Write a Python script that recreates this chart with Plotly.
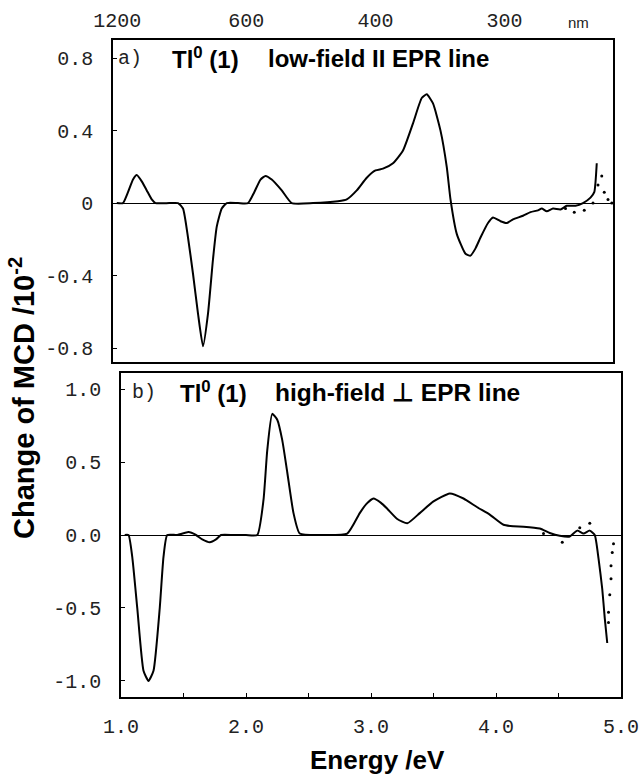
import plotly.graph_objects as go

W, H = 643, 779

# ---------------- data ----------------
# panel a: low-field || EPR line
energy_a = [1.03, 1.08, 1.12, 1.16, 1.19, 1.23, 1.27, 1.31, 1.34, 1.45, 1.52, 1.56, 1.60, 1.64,
            1.68, 1.72, 1.76, 1.80, 1.83, 1.87, 1.91, 2.00, 2.08, 2.13, 2.18, 2.22, 2.27, 2.35,
            2.43, 2.60, 2.80, 2.87, 2.95, 3.03, 3.10, 3.16, 3.24, 3.32, 3.40, 3.47, 3.51, 3.56,
            3.62, 3.67, 3.70, 3.75, 3.82, 3.86, 3.90, 3.94, 4.00, 4.04, 4.10, 4.15, 4.20, 4.28,
            4.34, 4.40, 4.43, 4.47, 4.52, 4.58, 4.63, 4.70, 4.76, 4.82, 4.85, 4.87]
mcd_a = [0.0, 0.0, 0.06, 0.13, 0.155, 0.12, 0.07, 0.02, 0.0, 0.0, 0.0, -0.03, -0.19, -0.39,
         -0.61, -0.79, -0.61, -0.31, -0.13, -0.03, 0.0, 0.0, 0.0, 0.06, 0.13, 0.15, 0.13, 0.07,
         0.0, 0.0, 0.01, 0.02, 0.07, 0.14, 0.18, 0.19, 0.22, 0.29, 0.44, 0.58, 0.60, 0.55,
         0.40, 0.20, 0.02, -0.17, -0.28, -0.29, -0.25, -0.19, -0.11, -0.08, -0.10, -0.11, -0.09, -0.07,
         -0.05, -0.04, -0.03, -0.045, -0.03, -0.035, -0.015, -0.015, 0.0, 0.03, 0.06, 0.22]
energy_a_dots = [4.62, 4.69, 4.77, 4.84, 4.88, 4.91, 4.93, 4.96, 4.99]
mcd_a_dots = [-0.03, -0.05, -0.04, 0.0, 0.10, 0.15, 0.06, 0.02, 0.0]

# panel b: high-field _|_ EPR line
energy_b = [1.03, 1.06, 1.09, 1.13, 1.18, 1.22, 1.26, 1.31, 1.34, 1.37, 1.45, 1.54, 1.60, 1.65,
            1.71, 1.76, 1.80, 1.90, 2.00, 2.09, 2.14, 2.17, 2.21, 2.25, 2.29, 2.33, 2.38, 2.43,
            2.60, 2.81, 2.91, 2.96, 3.02, 3.08, 3.13, 3.21, 3.29, 3.39, 3.50, 3.63, 3.74, 3.85,
            3.95, 4.06, 4.14, 4.22, 4.35, 4.43, 4.51, 4.59, 4.65, 4.70, 4.75, 4.79, 4.82, 4.85,
            4.87, 4.89]
mcd_b = [0.0, 0.0, -0.15, -0.50, -0.93, -1.0, -0.93, -0.50, -0.15, 0.0, 0.0, 0.02, 0.0, -0.03,
         -0.05, -0.03, 0.0, 0.0, 0.0, 0.0, 0.24, 0.58, 0.83, 0.79, 0.65, 0.43, 0.15, 0.01,
         0.0, 0.01, 0.15, 0.21, 0.25, 0.22, 0.18, 0.11, 0.08, 0.15, 0.23, 0.285, 0.25, 0.19,
         0.14, 0.07, 0.06, 0.057, 0.044, 0.014, -0.005, -0.01, 0.03, 0.01, 0.03, 0.0, -0.16, -0.37,
         -0.57, -0.74]
energy_b_dots = [4.38, 4.53, 4.67, 4.75, 4.94, 4.93, 4.92, 4.92, 4.91, 4.90, 4.90]
mcd_b_dots = [0.01, -0.05, 0.05, 0.08, -0.06, -0.12, -0.21, -0.30, -0.41, -0.53, -0.60]

nm_ticks = [1200, 600, 400, 300]
ya_ticks = [-0.8, -0.4, 0, 0.4, 0.8]
ya_text = ["-0.8", "-0.4", "0", "0.4", "0.8"]
yb_ticks = [-1.0, -0.5, 0.0, 0.5, 1.0]
yb_text = ["-1.0", "-0.5", "0.0", "0.5", "1.0"]
x_ticks = [1.0, 2.0, 3.0, 4.0, 5.0]
x_text = ["1.0", "2.0", "3.0", "4.0", "5.0"]


def px(x):
    return x / W


def py(y):
    return 1 - y / H


MONO = "Liberation Mono"
SANS = "Liberation Sans"
tickfont = dict(family=MONO, size=20, color="#222")

fig = go.Figure()
line = dict(color="black", width=2, shape="spline", smoothing=0.5)
fig.add_trace(go.Scatter(x=energy_a, y=mcd_a, mode="lines", line=line, xaxis="x", yaxis="y"))
fig.add_trace(go.Scatter(x=energy_a_dots, y=mcd_a_dots, mode="markers",
                         marker=dict(color="black", size=3), xaxis="x", yaxis="y"))
fig.add_trace(go.Scatter(x=energy_b, y=mcd_b, mode="lines", line=line, xaxis="x2", yaxis="y2"))
fig.add_trace(go.Scatter(x=energy_b_dots, y=mcd_b_dots, mode="markers",
                         marker=dict(color="black", size=3), xaxis="x2", yaxis="y2"))
# invisible trace to carry the top nm axis
fig.add_trace(go.Scatter(x=[1, 5], y=[0, 0], mode="lines", line=dict(width=0),
                         opacity=0, xaxis="x3", yaxis="y", hoverinfo="skip"))

frame = dict(showline=True, linecolor="black", linewidth=1.5, mirror=True,
             showgrid=False, automargin=False)

fig.update_layout(
    template="none",
    width=W, height=H,
    margin=dict(l=0, r=0, t=0, b=0, autoexpand=False),
    paper_bgcolor="white", plot_bgcolor="white",
    showlegend=False,
    xaxis=dict(domain=[px(113), px(613)], anchor="y", range=[1, 5],
               showticklabels=False, ticks="", zeroline=False, **frame),
    yaxis=dict(domain=[py(362), py(40)], anchor="x", range=[-0.877, 0.9],
               tickvals=ya_ticks, ticktext=ya_text, ticks="inside", ticklen=4,
               tickcolor="black", tickfont=tickfont, ticklabelstandoff=14,
               zeroline=True, zerolinecolor="black", zerolinewidth=1.2, **frame),
    xaxis3=dict(overlaying="x", side="top", anchor="y", range=[1, 5],
                tickvals=[1239.84 / n for n in nm_ticks], ticktext=[str(n) for n in nm_ticks],
                ticks="", tickfont=tickfont, ticklabelstandoff=8, showgrid=False,
                showline=False, zeroline=False, automargin=False),
    xaxis2=dict(domain=[px(121), px(621)], anchor="y2", range=[1, 5],
                tickvals=x_ticks, ticktext=x_text, ticks="inside", ticklen=4,
                tickcolor="black",
                minor=dict(dtick=0.5, tick0=1, ticks="inside", ticklen=4, tickcolor="black"),
                tickfont=tickfont, ticklabelstandoff=10, zeroline=False, **frame),
    yaxis2=dict(domain=[py(697), py(373)], anchor="x2", range=[-1.11, 1.11],
                tickvals=yb_ticks, ticktext=yb_text, ticks="inside", ticklen=4,
                tickcolor="black", tickfont=tickfont, ticklabelstandoff=14,
                zeroline=True, zerolinecolor="black", zerolinewidth=1.2, **frame),
)

bold = dict(family=SANS, size=24, color="black")
ann = []


def add(text, x, y, font, xanchor="left", **kw):
    ann.append(dict(text=text, x=px(x), y=py(y), xref="paper", yref="paper",
                    showarrow=False, xanchor=xanchor, yanchor="middle", font=font, **kw))


add("a)", 116, 58, dict(family=MONO, size=20, color="#222"))
add("<b>Tl<sup>0</sup> (1)</b>", 170, 58, bold)
add("<b>low-field II EPR line</b>", 266, 58, bold)
add("b)", 130, 392, dict(family=MONO, size=20, color="#222"))
add("<b>Tl<sup>0</sup> (1)</b>", 178, 392, bold)
add("<b>high-field \u22a5 EPR line</b>", 273, 392, dict(family=SANS, size=24.5, color="black"))
add("nm", 578, 22, dict(family=SANS, size=15, color="#222"), xanchor="center")
add("<b>Energy /eV</b>", 377, 760, dict(family=SANS, size=26, color="black"), xanchor="center")
add("<b>Change of MCD /10<sup>-2</sup></b>", 22, 398, dict(family=SANS, size=29, color="black"),
    xanchor="center", textangle=-90)
fig.update_layout(annotations=ann)

fig.write_html("out.html", config={"displayModeBar": False},
               post_script="document.body.style.margin='0';document.body.style.overflow='hidden';")
